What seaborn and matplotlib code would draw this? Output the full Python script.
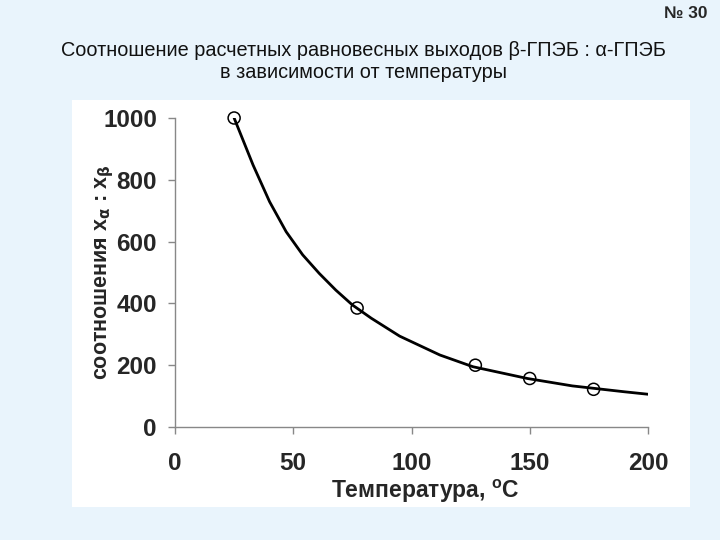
import numpy as np
import pandas as pd
import seaborn as sns
import matplotlib.pyplot as plt
from matplotlib.patches import Rectangle

# measured points
temp_pts = [25, 77, 127, 150, 177]
ratio_pts = [1000, 385, 200, 157, 122]

# fitted curve
temp_curve = [25, 33, 40, 47, 54, 61, 68, 75, 83, 95, 112, 126, 149, 168, 190, 200]
ratio_curve = [1000, 848, 729, 632, 557, 497, 443, 395, 352, 294, 233, 195, 157, 133,
               114, 106]

xticks = [0, 50, 100, 150, 200]
yticks = [0, 200, 400, 600, 800, 1000]

sns.set_style("white")
plt.rcParams["font.family"] = ["Liberation Sans", "DejaVu Sans"]

bg = "#e9f4fc"
fig = plt.figure(figsize=(7.2, 5.4), dpi=100, facecolor=bg)
fig.patches.append(Rectangle((72 / 720, 1 - 507 / 540), 618 / 720, 407 / 540,
                             transform=fig.transFigure, facecolor="white",
                             edgecolor="none", zorder=-5))
ax = fig.add_axes([175 / 720, 1 - 427 / 540, 473 / 720, 309 / 540])
ax.set_facecolor("none")
ax.set_zorder(2)

curve = pd.DataFrame({"t": temp_curve, "r": ratio_curve})
pts = pd.DataFrame({"t": temp_pts, "r": ratio_pts})
sns.lineplot(data=curve, x="t", y="r", color="black", lw=2, ax=ax)
sns.scatterplot(data=pts, x="t", y="r", marker="o", s=75, facecolor="none",
                edgecolor="black", linewidth=1.1, ax=ax, zorder=3, clip_on=False)

ax.set_xlim(0, 200)
ax.set_ylim(0, 1000)
ax.set_xticks(xticks)
ax.set_yticks(yticks)
ax.tick_params(axis="x", bottom=True, direction="out", length=5, width=1,
               color="#888888", pad=13, labelsize=17.5)
ax.tick_params(axis="y", left=True, direction="out", length=5, width=1,
               color="#888888", pad=8, labelsize=17.5)
for lab in ax.get_xticklabels() + ax.get_yticklabels():
    lab.set_fontweight("bold")
for s in ["top", "right"]:
    ax.spines[s].set_visible(False)
for s in ["left", "bottom"]:
    ax.spines[s].set_color("#888888")
    ax.spines[s].set_linewidth(1)

ax.set_xlabel("Температура, $\\mathregular{^oC}$", fontsize=16.5, fontweight="bold", labelpad=2)
ax.xaxis.label.set_x(0.529)
ax.set_ylabel("соотношения x$_\\mathbf{\\alpha}$ : x$_\\mathbf{\\beta}$", fontsize=15.5,
              fontweight="bold", labelpad=-9)

fig.text(0.505, 1 - 50 / 540, "Соотношение расчетных равновесных выходов β-ГПЭБ : α-ГПЭБ",
         ha="center", va="center", fontsize=14.3, color="#111111")
fig.text(0.505, 1 - 73 / 540, "в зависимости от температуры",
         ha="center", va="center", fontsize=14.3, color="#111111")
fig.text(708 / 720, 1 - 14 / 540, "№ 30", ha="right", va="center", fontsize=12.5,
         fontweight="bold")

fig.savefig("out.png", dpi=100, facecolor=bg)
